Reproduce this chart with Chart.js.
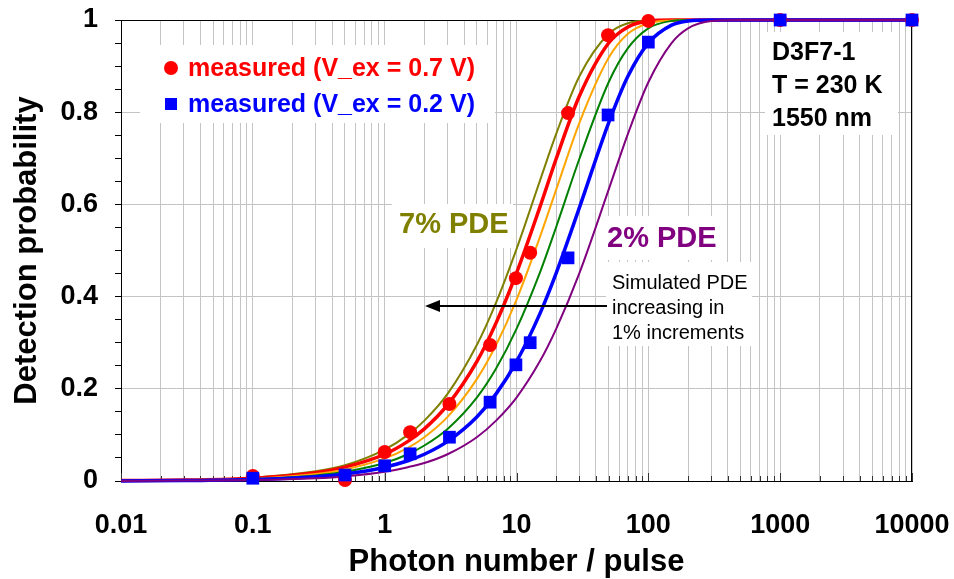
<!DOCTYPE html>
<html>
<head>
<meta charset="utf-8">
<script src="https://cdn.jsdelivr.net/npm/chart.js@4.4.1/dist/chart.umd.min.js"></script>
<style>
  html, body { margin: 0; padding: 0; background: #fff; }
  #wrap { width: 954px; height: 579px; position: relative; }
</style>
</head>
<body>
<div id="wrap"><canvas id="pdeChart"></canvas></div>
<script>
(() => {
  /* ---------- DATA ---------- */

  // photon numbers at which the simulated curves were read
  const PHOTON_N = [0.01, 0.03, 0.1, 0.3, 0.5, 1, 1.5, 2, 3, 5, 7, 10, 15, 20, 30, 50, 70, 100, 150, 200, 300, 500, 1000, 10000];

  const PDE_7 = [0.001, 0.002, 0.007, 0.021, 0.034, 0.068, 0.100, 0.131, 0.189, 0.295, 0.387, 0.503, 0.650, 0.753, 0.878, 0.970, 0.993, 0.999, 1, 1, 1, 1, 1, 1];
  const PDE_6 = [0.001, 0.002, 0.006, 0.018, 0.030, 0.058, 0.086, 0.113, 0.165, 0.259, 0.343, 0.451, 0.593, 0.699, 0.835, 0.950, 0.985, 0.998, 1, 1, 1, 1, 1, 1];
  const PDE_5 = [0.000, 0.002, 0.005, 0.015, 0.025, 0.049, 0.072, 0.095, 0.139, 0.221, 0.295, 0.393, 0.528, 0.632, 0.777, 0.918, 0.970, 0.993, 0.999, 1, 1, 1, 1, 1];
  const PDE_4 = [0.000, 0.001, 0.004, 0.012, 0.020, 0.039, 0.058, 0.077, 0.113, 0.181, 0.244, 0.330, 0.451, 0.551, 0.699, 0.865, 0.939, 0.982, 0.998, 1, 1, 1, 1, 1];
  const PDE_3 = [0.000, 0.001, 0.003, 0.009, 0.015, 0.030, 0.044, 0.058, 0.086, 0.139, 0.189, 0.259, 0.362, 0.451, 0.593, 0.777, 0.878, 0.950, 0.989, 0.998, 1, 1, 1, 1];
  const PDE_2 = [0.000, 0.001, 0.002, 0.006, 0.010, 0.020, 0.030, 0.039, 0.058, 0.095, 0.131, 0.181, 0.259, 0.330, 0.451, 0.632, 0.753, 0.865, 0.950, 0.982, 0.998, 1, 1, 1];

  // measured points
  const MEAS_N = [0.1, 0.5, 1, 1.56, 3.1, 6.3, 9.9, 12.7, 24.6, 49.5, 100, 1000, 10000];
  const MEAS_07V = [0.011, 0.002, 0.063, 0.106, 0.167, 0.295, 0.440, 0.495, 0.798, 0.967, 0.998, 1, 1];
  const MEAS_02V = [0.006, 0.013, 0.033, 0.059, 0.095, 0.171, 0.252, 0.300, 0.484, 0.794, 0.952, 1, 1];

  const X_TICK_LABELS = ["0.01", "0.1", "1", "10", "100", "1000", "10000"];
  const Y_TICK_LABELS = ["0", "0.2", "0.4", "0.6", "0.8", "1"];

  /* ---------- STYLE ---------- */

  const FONT = "Arial, 'Liberation Sans', Helvetica, sans-serif";
  const GRID = "#c4c4c4";
  const DECADES = X_TICK_LABELS.map(Number);
  const Y_MAJOR = Y_TICK_LABELS.map(Number);

  const pts = (xs, ys) => xs.map((x, i) => ({ x, y: ys[i] }));

  function curve(data, color, width) {
    return {
      data: pts(PHOTON_N, data),
      borderColor: color,
      borderWidth: width,
      pointRadius: 0,
      cubicInterpolationMode: "monotone",
      fill: false,
      clip: false,
      order: 5
    };
  }

  function isMajorY(v) {
    return Y_MAJOR.some(m => Math.abs(m - v) < 1e-6);
  }

  /* ---------- OVERLAY (frame, notes, legend, arrow) ---------- */

  const overlay = {
    id: "overlay",
    beforeDatasetsDraw(chart) {
      const { ctx, chartArea: a, scales } = chart;
      ctx.save();

      ctx.strokeStyle = "#000";
      ctx.lineWidth = 1;
      ctx.beginPath();
      ctx.moveTo(a.left, a.top + 0.5);
      ctx.lineTo(a.right - 0.5, a.top + 0.5);
      ctx.lineTo(a.right - 0.5, a.bottom);
      ctx.stroke();

      // x tick marks point inward
      ctx.strokeStyle = "#333";
      scales.x.ticks.forEach(t => {
        const px = Math.round(scales.x.getPixelForValue(t.value)) + 0.5;
        ctx.beginPath();
        ctx.moveTo(px, a.bottom);
        ctx.lineTo(px, a.bottom - (t.major ? 8 : 5));
        ctx.stroke();
      });

      // white patches behind the text
      ctx.fillStyle = "#fff";
      ctx.fillRect(140, 45, 355, 78);
      ctx.fillRect(765, 32, 133, 103);
      ctx.fillRect(392, 204, 121, 44);
      ctx.fillRect(602, 216, 120, 44);
      ctx.fillRect(606, 262, 146, 84);

      ctx.textBaseline = "middle";
      ctx.textAlign = "left";

      // legend
      ctx.fillStyle = "#ff0000";
      ctx.beginPath();
      ctx.arc(171, 68, 7, 0, Math.PI * 2);
      ctx.fill();
      ctx.font = "bold 25px " + FONT;
      ctx.fillText("measured (V_ex = 0.7 V)", 188, 69);
      ctx.fillStyle = "#0000ff";
      ctx.fillRect(165, 98, 12, 12);
      ctx.fillText("measured (V_ex = 0.2 V)", 188, 105);

      // sample info
      ctx.fillStyle = "#000";
      ctx.fillText("D3F7-1", 772, 53);
      ctx.fillText("T = 230 K", 772, 86);
      ctx.fillText("1550 nm", 772, 119);

      ctx.font = "bold 29px " + FONT;
      ctx.fillStyle = "#808000";
      ctx.fillText("7% PDE", 399, 225);
      ctx.fillStyle = "#800080";
      ctx.fillText("2% PDE", 607, 239);

      ctx.font = "20px " + FONT;
      ctx.fillStyle = "#000";
      ctx.fillText("Simulated PDE", 612, 283);
      ctx.fillText("increasing in", 612, 308);
      ctx.fillText("1% increments", 612, 333);

      ctx.restore();
    },
    afterDatasetsDraw(chart) {
      const { ctx } = chart;
      ctx.save();
      ctx.strokeStyle = "#000";
      ctx.fillStyle = "#000";
      ctx.lineWidth = 2;
      ctx.beginPath();
      ctx.moveTo(607, 306);
      ctx.lineTo(436, 306);
      ctx.stroke();
      ctx.beginPath();
      ctx.moveTo(425, 306);
      ctx.lineTo(440, 300);
      ctx.lineTo(440, 312);
      ctx.closePath();
      ctx.fill();
      ctx.restore();
    }
  };

  /* ---------- CHART ---------- */

  function createChart() {
    const canvas = document.getElementById("pdeChart");

    const datasets = [
      {
        data: pts(MEAS_N, MEAS_02V),
        showLine: false,
        pointStyle: "rect",
        pointRadius: 9,
        backgroundColor: "#0000ff",
        borderWidth: 0,
        clip: false,
        order: 0
      },
      {
        data: pts(MEAS_N, MEAS_07V),
        showLine: false,
        pointStyle: "circle",
        pointRadius: 7,
        backgroundColor: "#ff0000",
        borderWidth: 0,
        clip: false,
        order: 1
      },
      curve(PDE_2, "#800080", 2),
      curve(PDE_3, "#0000ff", 3.5),
      curve(PDE_4, "#008000", 2),
      curve(PDE_5, "#ffa500", 2),
      curve(PDE_6, "#ff0000", 3.5),
      curve(PDE_7, "#808000", 2)
    ];

    new Chart(canvas, {
      type: "line",
      data: { datasets },
      options: {
        responsive: true,
        maintainAspectRatio: false,
        animation: false,
        layout: { padding: { top: 20, right: 42, left: 0, bottom: 0 } },
        plugins: {
          legend: { display: false },
          tooltip: { enabled: false }
        },
        scales: {
          x: {
            type: "logarithmic",
            min: 0.01,
            max: 10000,
            afterBuildTicks(scale) {
              const ticks = [];
              DECADES.forEach((d, i) => {
                if (i === DECADES.length - 1) {
                  ticks.push({ value: d, major: true });
                  return;
                }
                for (let k = 1; k <= 9; k++) ticks.push({ value: k * d, major: k === 1 });
              });
              scale.ticks = ticks;
            },
            afterFit(scale) {
              scale.height = 98;
              scale.paddingLeft = 0;
              scale.paddingRight = 0;
            },
            ticks: {
              autoSkip: false,
              maxRotation: 0,
              padding: 28,
              color: "#000",
              font: { family: FONT, size: 27, weight: "bold" },
              callback(value) {
                const i = DECADES.findIndex(d => Math.abs(d - value) / d < 1e-6);
                return i >= 0 ? X_TICK_LABELS[i] : "";
              }
            },
            grid: { color: GRID, lineWidth: 1, drawTicks: false },
            border: { display: true, color: "#000", width: 1 },
            title: {
              display: true,
              text: "Photon number / pulse",
              color: "#000",
              font: { family: FONT, size: 31, weight: "bold", lineHeight: 1 },
              padding: { top: 0, bottom: 1 }
            }
          },
          y: {
            min: 0,
            max: 1,
            afterFit(scale) {
              scale.width = 121;
              scale.paddingTop = 0;
              scale.paddingBottom = 0;
            },
            ticks: {
              stepSize: 0.05,
              autoSkip: false,
              padding: 17,
              color: "#000",
              font: { family: FONT, size: 27, weight: "bold" },
              callback(value) {
                const i = Y_MAJOR.findIndex(m => Math.abs(m - value) < 1e-6);
                return i >= 0 ? Y_TICK_LABELS[i] : "";
              }
            },
            grid: {
              color: ctx => {
                const v = ctx.tick ? ctx.tick.value : 0;
                return isMajorY(v) && v > 0.01 && v < 0.99 ? GRID : "rgba(0,0,0,0)";
              },
              tickColor: "#000",
              tickLength: 6,
              lineWidth: 1
            },
            border: { display: true, color: "#000", width: 1 },
            title: {
              display: true,
              text: "Detection probability",
              color: "#000",
              font: { family: FONT, size: 31, weight: "bold", lineHeight: 1 },
              padding: { top: 12, bottom: 0 }
            }
          }
        }
      },
      plugins: [overlay]
    });
  }

  if (document.readyState === "loading") {
    document.addEventListener("DOMContentLoaded", createChart);
  } else {
    createChart();
  }
})();
</script>
</body>
</html>
